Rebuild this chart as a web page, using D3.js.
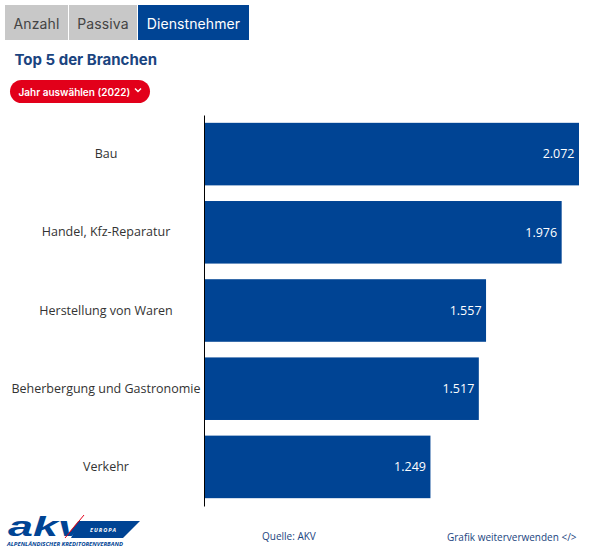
<!DOCTYPE html>
<html>
<head>
<meta charset="utf-8">
<script src="https://cdn.jsdelivr.net/npm/d3@7"></script>
<style>
  html, body { margin: 0; padding: 0; background: #fff; }
  svg { display: block; font-family: "Open Sans", sans-serif; }
</style>
</head>
<body>
<div id="chart"></div>
<script>
// Data
var branchen = ["Bau", "Handel, Kfz-Reparatur", "Herstellung von Waren", "Beherbergung und Gastronomie", "Verkehr"];
var dienstnehmer = [2072, 1976, 1557, 1517, 1249];
var tabs = ["Anzahl", "Passiva", "Dienstnehmer"];
var activeTab = "Dienstnehmer";

var blue = "#004494",
	red = "#e2001a",
	grey = "#c8c8c8";

var svg_dx = 604,
	svg_dy = 555,
	margin = {top: 115, left: 205, bottom: 49, right: 25};

var svg = d3.select("#chart")
	.append("svg")
	.attr("width", svg_dx)
	.attr("height", svg_dy);

// Tabs
var tabX = [5, 69, 138],
	tabW = [63, 68, 111];

var tab = svg.selectAll(".tab")
	.data(tabs)
	.enter()
	.append("g")
	.attr("class", "tab")
	.attr("transform", function(d, i) { return "translate(" + tabX[i] + ",5)"; });

tab.append("rect")
	.attr("width", function(d, i) { return tabW[i]; })
	.attr("height", 35)
	.style("fill", function(d) { return d === activeTab ? blue : grey; });

tab.append("text")
	.attr("x", function(d, i) { return tabW[i] / 2; })
	.attr("y", 23.5)
	.attr("text-anchor", "middle")
	.style("font-family", "Inter, sans-serif")
	.style("font-size", "14px")
	.style("letter-spacing", "0.1px")
	.style("fill", function(d) { return d === activeTab ? "#fff" : "#444"; })
	.text(function(d) { return d; });

// Title
svg.append("text")
	.attr("x", 14.5)
	.attr("y", 65)
	.style("font-family", "Inter, sans-serif")
	.style("font-size", "15px")
	.style("font-weight", 700)
	.style("fill", "#1a4480")
	.text("Top 5 der Branchen");

// Year button
svg.append("rect")
	.attr("x", 10)
	.attr("y", 80)
	.attr("width", 140)
	.attr("height", 23)
	.attr("rx", 11.5)
	.style("fill", red);

svg.append("text")
	.attr("x", 18.5)
	.attr("y", 96)
	.style("font-family", "Inter, sans-serif")
	.style("font-size", "10px")
	.style("font-weight", 600)
	.style("fill", "#fff")
	.text("Jahr auswählen (2022)");

svg.append("path")
	.attr("d", "M135 88.5l3 3 3-3")
	.style("fill", "none")
	.style("stroke", "#fff")
	.style("stroke-width", 1.5);

// Scales
var xScale = d3.scaleLinear()
	.domain([0, 2072])
	.range([margin.left, svg_dx - margin.right]);

var yScale = d3.scaleBand()
	.domain(branchen)
	.range([margin.top, svg_dy - margin.bottom])
	.paddingInner(0.2)
	.paddingOuter(0.1);

// Bars
svg.selectAll(".bar")
	.data(dienstnehmer)
	.enter()
	.append("rect")
	.attr("class", "bar")
	.attr("x", xScale(0))
	.attr("y", function(d, i) { return yScale(branchen[i]); })
	.attr("width", function(d) { return xScale(d) - xScale(0); })
	.attr("height", yScale.bandwidth())
	.style("fill", blue);

// Value labels
var fmt = d3.format(",");

svg.selectAll(".value")
	.data(dienstnehmer)
	.enter()
	.append("text")
	.attr("class", "value")
	.attr("x", function(d) { return xScale(d) - 4.5; })
	.attr("y", function(d, i) { return yScale(branchen[i]) + yScale.bandwidth() / 2; })
	.attr("dy", ".35em")
	.attr("text-anchor", "end")
	.style("font-size", "12.5px")
	.style("fill", "#fff")
	.text(function(d) { return fmt(d).replace(",", "."); });

// Category axis
var yAxis = svg.append("g")
	.attr("transform", "translate(" + (margin.left - 1) + ",0)")
	.call(d3.axisLeft(yScale).tickSize(0).tickPadding(0));

yAxis.select(".domain")
	.style("stroke", "#000")
	.style("stroke-width", 1);

yAxis.selectAll("text")
	.attr("text-anchor", "middle")
	.attr("x", -98)
	.style("font-family", "\"Open Sans\", sans-serif")
	.style("font-size", "12.5px")
	.style("fill", "#333");

// Footer
svg.append("text")
	.attr("x", 262)
	.attr("y", 540)
	.style("font-size", "10px")
	.style("fill", "#1a4480")
	.text("Quelle: AKV");

svg.append("text")
	.attr("x", 447)
	.attr("y", 541)
	.style("font-size", "10px")
	.style("fill", "#1a4480")
	.text("Grafik weiterverwenden </>");

// AKV logo
var logo = svg.append("g");

logo.append("path")
	.attr("d", "M80 521H140L123 538H71Z")
	.style("fill", blue);

logo.append("text")
	.attr("x", 8)
	.attr("y", 535.5)
	.style("font-family", "\"Liberation Sans\", sans-serif")
	.style("font-size", "27px")
	.style("font-weight", 700)
	.style("font-style", "italic")
	.style("fill", blue)
	.attr("textLength", 75)
	.attr("lengthAdjust", "spacingAndGlyphs")
	.text("akv");

logo.append("path")
	.attr("d", "M65 538L84 515")
	.style("stroke", red)
	.style("stroke-width", 1);

logo.append("text")
	.attr("x", 90)
	.attr("y", 532)
	.style("font-size", "5.5px")
	.style("font-weight", 700)
	.style("font-style", "italic")
	.style("letter-spacing", "1px")
	.style("fill", "#fff")
	.text("EUROPA");

logo.append("text")
	.attr("x", 7)
	.attr("y", 546)
	.attr("textLength", 116)
	.attr("lengthAdjust", "spacingAndGlyphs")
	.style("font-size", "5px")
	.style("font-weight", 700)
	.style("font-style", "italic")
	.style("fill", blue)
	.text("ALPENLÄNDISCHER KREDITORENVERBAND");
</script>
</body>
</html>
